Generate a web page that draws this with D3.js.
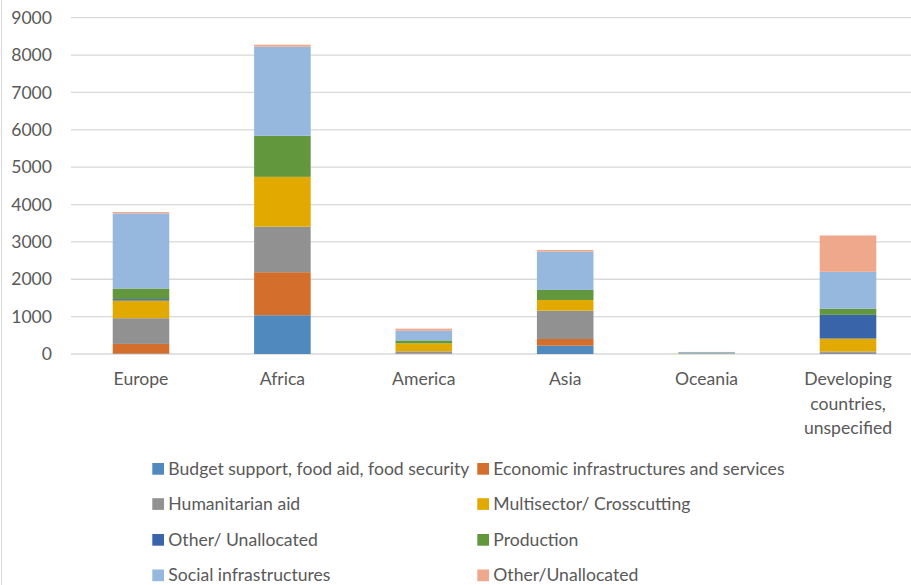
<!DOCTYPE html>
<html>
<head>
<meta charset="utf-8">
<script src="https://cdn.jsdelivr.net/npm/d3@7"></script>
<style>
  body { margin: 0; background: #fff; }
  svg text { font-family: Lato, "Liberation Sans", sans-serif; fill: #595959; }
</style>
</head>
<body>
<div id="chart"></div>
<script>
// categories and tick labels
var regions = ["Europe", "Africa", "America", "Asia", "Oceania", "Developing countries, unspecified"];
var regionLines = [["Europe"], ["Africa"], ["America"], ["Asia"], ["Oceania"], ["Developing", "countries,", "unspecified"]];
var yTicks = [0, 1000, 2000, 3000, 4000, 5000, 6000, 7000, 8000, 9000];

// series values, one per region
var budgetSupport = [10, 1037, 10, 222, 5, 20];
var economicInfra = [260, 1152, 10, 179, 3, 10];
var humanitarian = [688, 1221, 50, 758, 5, 35];
var multisector = [471, 1331, 214, 287, 5, 348];
var otherUnalloc1 = [40, 0, 0, 0, 0, 635];
var production = [284, 1098, 80, 268, 5, 161];
var socialInfra = [2009, 2384, 260, 1026, 30, 991];
var otherUnalloc2 = [38, 54, 54, 45, 2, 972];

var seriesNames = [
    "Budget support, food aid, food security",
    "Economic infrastructures and services",
    "Humanitarian aid",
    "Multisector/ Crosscutting",
    "Other/ Unallocated",
    "Production",
    "Social infrastructures",
    "Other/Unallocated"
];
var seriesValues = [budgetSupport, economicInfra, humanitarian, multisector,
    otherUnalloc1, production, socialInfra, otherUnalloc2];
var colors = ["#4f89bd", "#d36e2c", "#919191", "#e2aa00", "#3a64aa", "#62973e", "#96b8de", "#f0a88c"];

var width = 911, height = 585;
var fontSize = "17.6px";

// build rows for d3.stack
var rows = regions.map(function(r, i) {
    var row = { region: r };
    seriesNames.forEach(function(s, j) { row["s" + j] = seriesValues[j][i]; });
    return row;
});
var keys = seriesNames.map(function(s, j) { return "s" + j; });
var stacked = d3.stack().keys(keys)(rows);

var svg = d3.select("#chart").append("svg")
    .attr("width", width)
    .attr("height", height);

// left border of the chart area
svg.append("line")
    .attr("x1", 1.5).attr("x2", 1.5)
    .attr("y1", 0).attr("y2", height)
    .attr("stroke", "#d9d9d9");

var x = d3.scaleBand()
    .domain(regions)
    .range([70.3, 918.7])
    .paddingInner(0.6)
    .paddingOuter(0.3);

var y = d3.scaleLinear()
    .domain([0, 9000])
    .range([354, 17.7]);

// gridlines
svg.append("g").selectAll("line")
    .data(yTicks)
    .enter().append("line")
    .attr("x1", 71).attr("x2", width)
    .attr("y1", function(d) { return y(d); })
    .attr("y2", function(d) { return y(d); })
    .attr("stroke", "#d9d9d9")
    .attr("stroke-width", 1.3);

// y tick labels
var yAxis = svg.append("g")
    .attr("transform", "translate(62,0)")
    .call(d3.axisLeft(y).tickValues(yTicks).tickFormat(d3.format("d")).tickSize(0).tickPadding(10));
yAxis.select(".domain").remove();
yAxis.selectAll("text")
    .style("font-size", fontSize)
    .style("font-family", "Lato, sans-serif")
    .attr("fill", "#595959");

// bars
svg.append("g").selectAll("g")
    .data(stacked)
    .enter().append("g")
    .attr("fill", function(d, i) { return colors[i]; })
    .selectAll("rect")
    .data(function(d) { return d; })
    .enter().append("rect")
    .attr("x", function(d) { return x(d.data.region); })
    .attr("width", x.bandwidth())
    .attr("y", function(d) { return y(d[1]); })
    .attr("height", function(d) { return Math.max(0, y(d[0]) - y(d[1])); });

// x labels
var xl = svg.append("g").selectAll("text")
    .data(regions)
    .enter().append("text")
    .attr("text-anchor", "middle")
    .attr("x", function(d) { return x(d) + x.bandwidth() / 2; })
    .attr("y", 385)
    .style("font-size", fontSize);
xl.selectAll("tspan")
    .data(function(d, i) { return regionLines[i]; })
    .enter().append("tspan")
    .attr("x", function() { return d3.select(this.parentNode).attr("x"); })
    .attr("dy", function(d, i) { return i === 0 ? 0 : 24.5; })
    .text(function(d) { return d; });

// legend
var legendCols = [152.3, 477.3];
var legendRows = [468.8, 504, 539.8, 575.3];
var legend = svg.append("g").selectAll("g")
    .data(seriesNames)
    .enter().append("g")
    .attr("transform", function(d, i) {
        return "translate(" + legendCols[i % 2] + "," + legendRows[Math.floor(i / 2)] + ")";
    });
legend.append("rect")
    .attr("x", 0).attr("y", -5.8)
    .attr("width", 11.7).attr("height", 11.7)
    .attr("fill", function(d, i) { return colors[i]; });
legend.append("text")
    .attr("x", 16)
    .attr("dy", "0.35em")
    .style("font-size", fontSize)
    .text(function(d) { return d; });
</script>
</body>
</html>
